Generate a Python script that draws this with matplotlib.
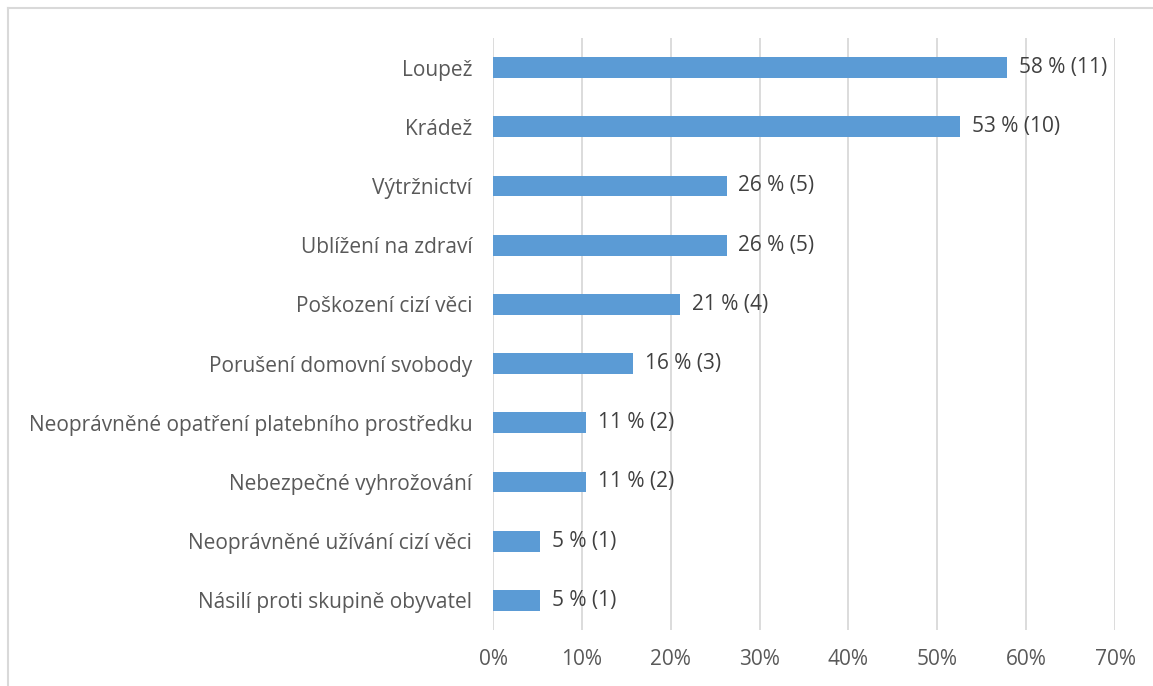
import matplotlib
matplotlib.use("Agg")
import matplotlib.pyplot as plt

categories = ["Loupež", "Krádež", "Výtržnictví", "Ublížení na zdraví",
              "Poškození cizí věci", "Porušení domovní svobody",
              "Neoprávněné opatření platebního prostředku",
              "Nebezpečné vyhrožování", "Neoprávněné užívání cizí věci",
              "Násilí proti skupině obyvatel"]
percent = [57.9, 52.6, 26.3, 26.3, 21.1, 15.8, 10.5, 10.5, 5.3, 5.3]
counts = [11, 10, 5, 5, 4, 3, 2, 2, 1, 1]
value_labels = ["58 % (11)", "53 % (10)", "26 % (5)", "26 % (5)", "21 % (4)",
                "16 % (3)", "11 % (2)", "11 % (2)", "5 % (1)", "5 % (1)"]
xticks = [0, 10, 20, 30, 40, 50, 60, 70]

plt.rcParams['font.family'] = ['Open Sans', 'DejaVu Sans']
text_color = "#595959"

fig = plt.figure(figsize=(11.53, 6.86), dpi=100)
ax = fig.add_axes([493/1153, 1-630/686, (1115-493)/1153, (630-38)/686])

y = list(range(len(categories)))
ax.barh(y, percent, height=0.35, color="#5B9BD5", zorder=3)
for yi, v, lab in zip(y, percent, value_labels):
    ax.text(v + 1.3, yi, lab, va="center", ha="left", fontsize=15,
            color="#404040", zorder=4)

ax.set_xlim(0, 70)
ax.set_ylim(len(categories) - 0.5, -0.5)
ax.set_xticks(xticks)
ax.set_xticklabels([f"{t}%" for t in xticks])
ax.set_yticks(y)
ax.set_yticklabels(categories)
ax.tick_params(axis="both", length=0, labelsize=15, labelcolor=text_color)
ax.tick_params(axis="y", pad=15)
ax.tick_params(axis="x", pad=14)
ax.grid(axis="x", color="#D9D9D9", linewidth=1.3, zorder=0)
for s in ax.spines.values():
    s.set_visible(False)

# outer frame (only top/left visible in the crop)
fig.add_artist(plt.Line2D([7.5/1153, 7.5/1153], [0, 1-8/686], transform=fig.transFigure,
                          color="#D9D9D9", linewidth=1.5))
fig.add_artist(plt.Line2D([7.5/1153, 1], [1-8/686, 1-8/686], transform=fig.transFigure,
                          color="#D9D9D9", linewidth=1.5))

fig.savefig("out.png", dpi=100, facecolor="white")
